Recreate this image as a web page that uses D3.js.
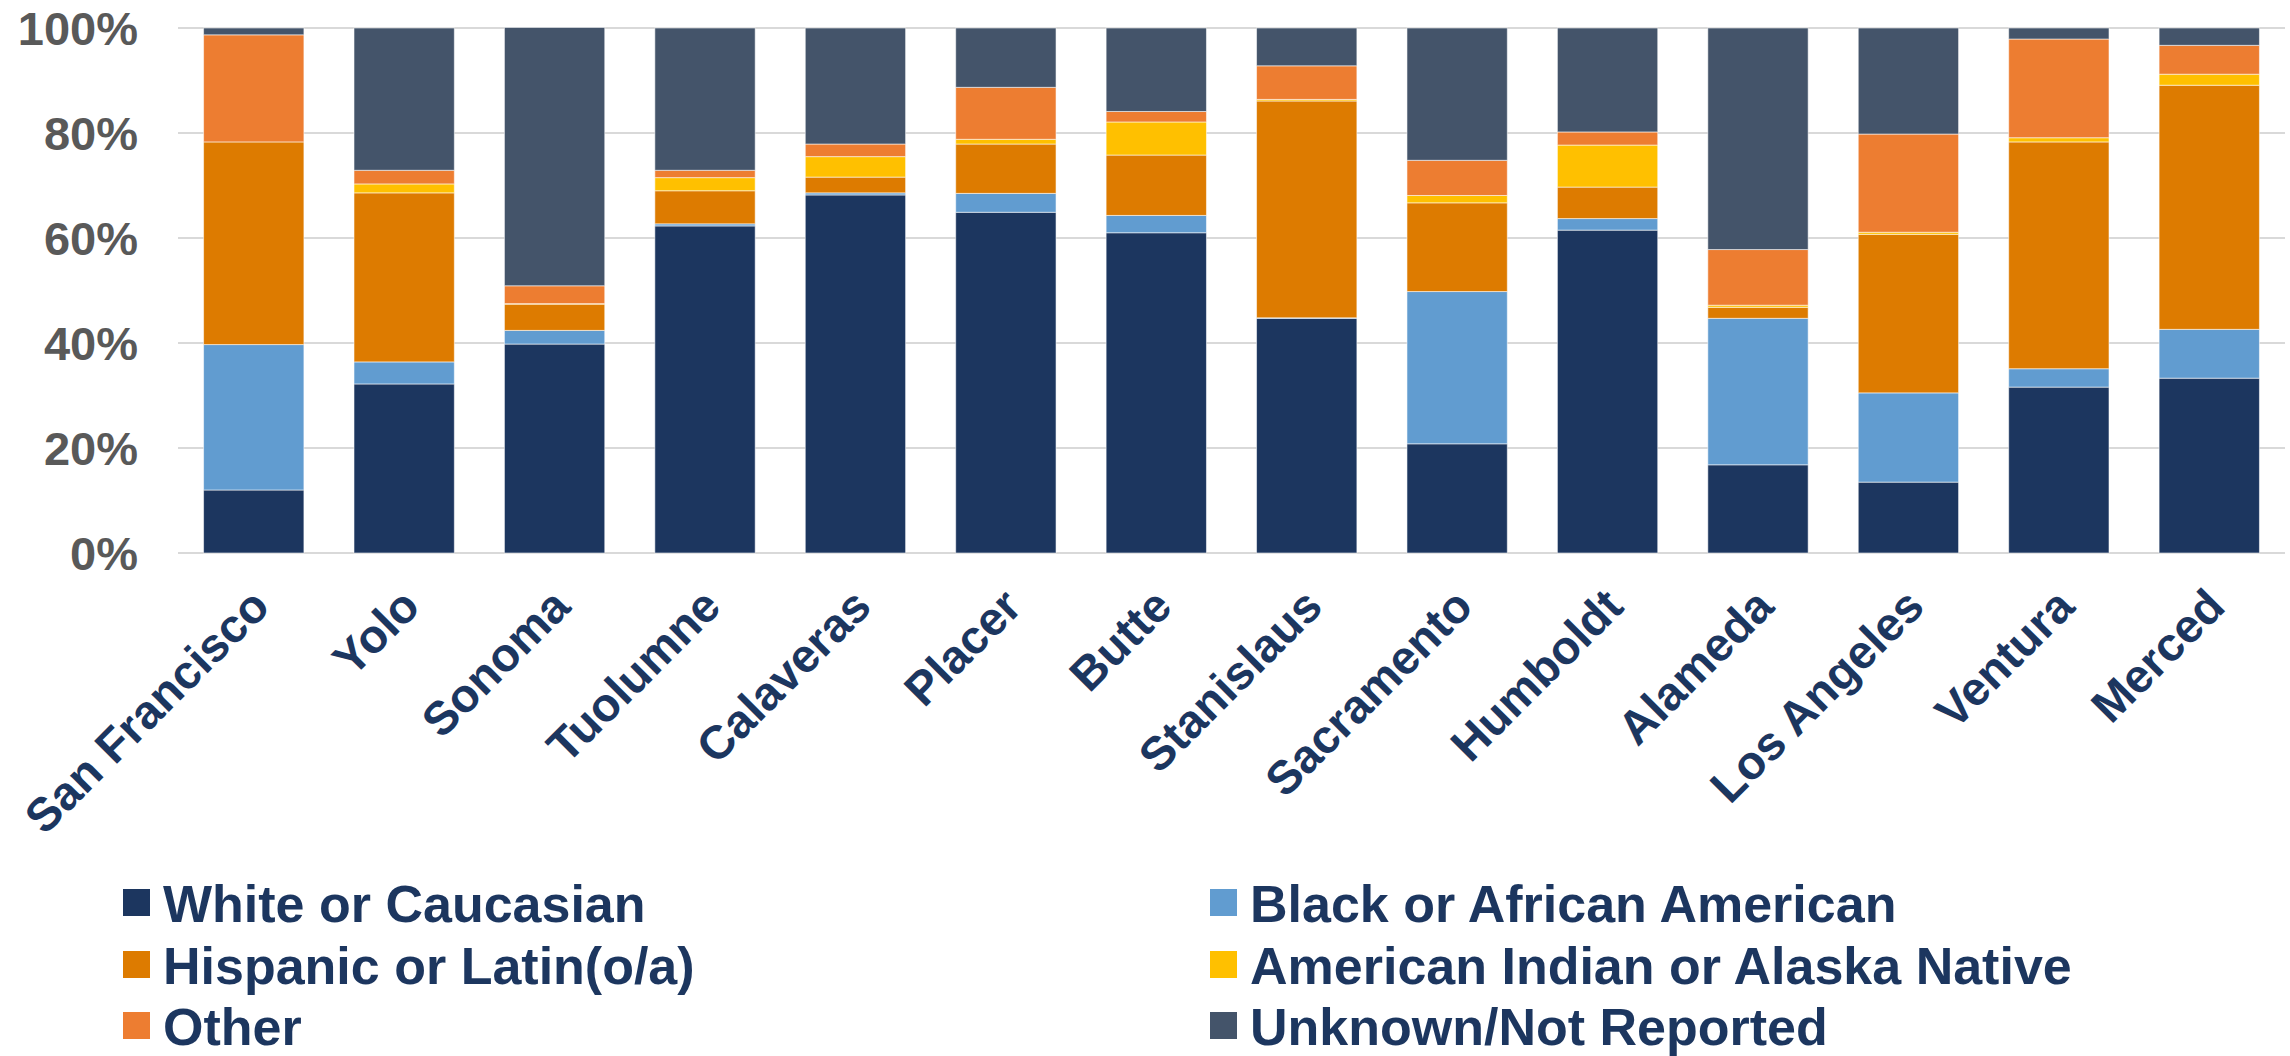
<!DOCTYPE html>
<html>
<head>
<meta charset="utf-8">
<script src="https://cdn.jsdelivr.net/npm/d3@7"></script>
<style>
  html, body { margin: 0; padding: 0; background: #ffffff; }
  svg { display: block; }
  text { font-family: "Liberation Sans", Arial, sans-serif; font-weight: bold; }
</style>
</head>
<body>
<svg id="chart" width="2290" height="1056"></svg>
<script>
// ---- Data (percent of each county) ----
const counties = ["San Francisco","Yolo","Sonoma","Tuolumne","Calaveras","Placer","Butte",
                  "Stanislaus","Sacramento","Humboldt","Alameda","Los Angeles","Ventura","Merced"];
const seriesNames = ["White or Caucasian","Black or African American","Hispanic or Latin(o/a)",
                     "American Indian or Alaska Native","Other","Unknown/Not Reported"];
const white    = [12.0, 32.2, 39.8, 62.3, 68.2, 64.9, 61.0, 44.7, 20.8, 61.5, 16.8, 13.5, 31.6, 33.3];
const black    = [27.7,  4.2,  2.6,  0.4,  0.4,  3.6,  3.3,  0.1, 29.0,  2.2, 27.9, 17.0,  3.5,  9.3];
const hispanic = [38.6, 32.2,  5.0,  6.3,  3.0,  9.4, 11.5, 41.3, 16.9,  6.0,  2.1, 30.2, 43.2, 46.5];
const aian     = [ 0.0,  1.7,  0.1,  2.5,  3.9,  0.9,  6.3,  0.3,  1.4,  8.0,  0.4,  0.4,  0.8,  2.1];
const other    = [20.4,  2.6,  3.4,  1.4,  2.4,  9.9,  2.0,  6.4,  6.7,  2.5, 10.6, 18.7, 18.8,  5.5];
const unknown  = [ 1.3, 27.1, 49.2, 27.1, 22.1, 11.3, 15.9,  7.2, 25.2, 19.8, 42.2, 20.2,  2.1,  3.3];
const yTicks   = [0, 20, 40, 60, 80, 100];
const colors   = ["#1c365f", "#619cd0", "#dd7b00", "#ffc000", "#ed7d31", "#44546a"];

const seriesValues = [white, black, hispanic, aian, other, unknown];
const keys = seriesNames;
const table = counties.map((c, i) => {
  const row = { county: c };
  keys.forEach((k, j) => { row[k] = seriesValues[j][i]; });
  return row;
});

// ---- Layout ----
const svg = d3.select("#chart");
const plot = { left: 178, right: 2285, top: 28, bottom: 553 };

const x = d3.scaleBand()
  .domain(counties)
  .range([plot.left, plot.right])
  .paddingInner(0.333)
  .paddingOuter(0.17);

const y = d3.scaleLinear()
  .domain([0, 100])
  .range([plot.bottom, plot.top]);

const color = d3.scaleOrdinal().domain(keys).range(colors);

// Gridlines
svg.append("g")
  .selectAll("line")
  .data(yTicks)
  .join("line")
  .attr("x1", plot.left)
  .attr("x2", plot.right)
  .attr("y1", d => y(d))
  .attr("y2", d => y(d))
  .attr("stroke", "#d9d9d9")
  .attr("stroke-width", 2);

// Y axis labels
const yAxis = d3.axisLeft(y).tickValues(yTicks).tickFormat(d => d + "%").tickSize(0).tickPadding(0);
const yG = svg.append("g")
  .attr("transform", `translate(${plot.left - 40},0)`)
  .call(yAxis);
yG.select(".domain").remove();
yG.selectAll("text")
  .attr("fill", "#595959")
  .attr("font-size", 47)
  .attr("font-family", "'Liberation Sans', Arial, sans-serif")
  .attr("font-weight", "bold")
  .attr("dy", "0.36em");

// Stacked bars
const stack = d3.stack().keys(keys)(table);
svg.append("g")
  .selectAll("g")
  .data(stack)
  .join("g")
  .attr("fill", d => color(d.key))
  .selectAll("rect")
  .data(d => d)
  .join("rect")
  .attr("x", d => x(d.data.county))
  .attr("width", x.bandwidth())
  .attr("y", d => y(d[1]))
  .attr("height", d => Math.max(0, y(d[0]) - y(d[1])))
  .attr("stroke", "rgba(255,255,255,0.55)")
  .attr("stroke-width", 1);

// X axis labels (rotated)
const xAxis = d3.axisBottom(x).tickSize(0).tickPadding(0);
const xG = svg.append("g")
  .attr("transform", `translate(0,${plot.bottom})`)
  .call(xAxis);
xG.select(".domain").remove();
xG.selectAll("text")
  .attr("fill", "#1c365f")
  .attr("font-size", 47)
  .attr("font-family", "'Liberation Sans', Arial, sans-serif")
  .attr("font-weight", "bold")
  .attr("text-anchor", "end")
  .attr("dy", null)
  .attr("y", 0)
  .attr("transform", "translate(18,56) rotate(-45)");

// Legend
const legend = svg.append("g");
const legendCols = [123, 1210];
const legendRows = [903, 965, 1026];
keys.forEach((k, i) => {
  const col = i % 2, row = Math.floor(i / 2);
  const g = legend.append("g")
    .attr("transform", `translate(${legendCols[col]},${legendRows[row]})`);
  g.append("rect")
    .attr("x", 0).attr("y", -14)
    .attr("width", 27).attr("height", 27)
    .attr("fill", color(k));
  g.append("text")
    .attr("x", 40).attr("y", 0)
    .attr("dy", "0.36em")
    .attr("font-size", 52)
    .attr("fill", "#1c365f")
    .text(k);
});
</script>
</body>
</html>
